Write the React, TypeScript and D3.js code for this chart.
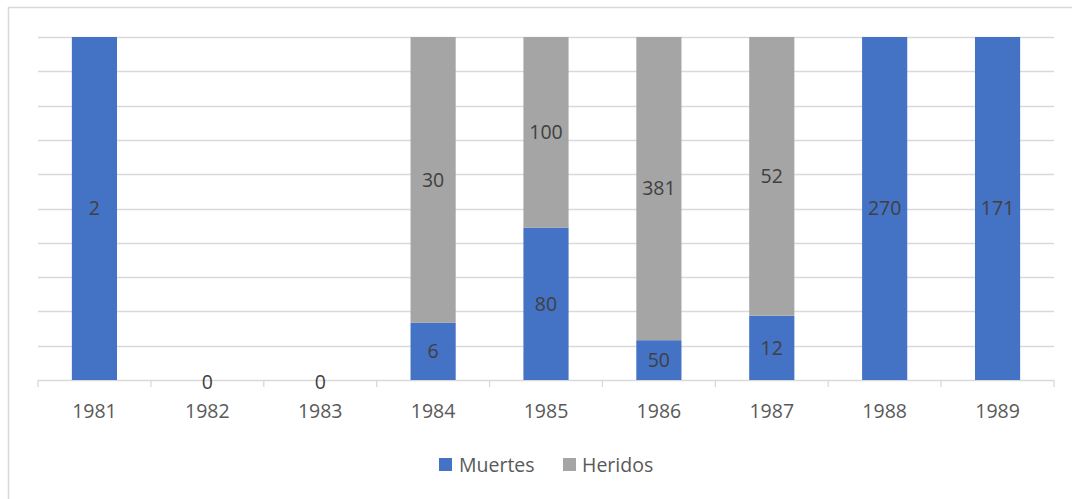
import React from 'react';
import * as d3 from 'd3';

const years = ['1981', '1982', '1983', '1984', '1985', '1986', '1987', '1988', '1989'];
const muertes = [2, 0, 0, 6, 80, 50, 12, 270, 171];
const heridos = [0, 0, 0, 30, 100, 381, 52, 0, 0];
const seriesNames = ['Muertes', 'Heridos'];
const seriesColors = ['#4472C4', '#A5A5A5'];

const W = 1072;
const H = 499;
const plot = { left: 38, right: 1054, top: 37, bottom: 380 };
const font = '"Open Sans", Lato, sans-serif';
const fs = 19.5;

export default function App() {
  const x = d3.scaleBand().domain(years).range([plot.left, plot.right]).paddingInner(0.6).paddingOuter(0.3);
  const y = d3.scaleLinear().domain([0, 1]).range([plot.bottom, plot.top]);
  const band = (plot.right - plot.left) / years.length;

  const rows = years.map((yr, i) => {
    const total = muertes[i] + heridos[i];
    return { year: yr, Muertes: total ? muertes[i] / total : 0, Heridos: total ? heridos[i] / total : 0 };
  });
  const stacked = d3.stack<any>().keys(seriesNames)(rows);
  const raw = [muertes, heridos];

  const gridTicks = d3.range(0, 1.0001, 0.1);

  return (
    <div style={{ position: 'fixed', left: 0, top: 0, width: W, height: H, background: '#fff' }}>
      <svg width={W} height={H} style={{ display: 'block' }}>
        {/* outer chart frame */}
        <rect x={8.5} y={7.5} width={W + 10} height={H + 10} fill="none" stroke="#d9d9d9" strokeWidth={1.5} />

        {gridTicks.map((t, i) => (
          <line key={i} x1={plot.left} x2={plot.right} y1={Math.round(y(t)) + 0.5} y2={Math.round(y(t)) + 0.5}
            stroke="#d9d9d9" strokeWidth={1.3} />
        ))}

        {/* category tick marks */}
        {d3.range(years.length + 1).map(i => (
          <line key={i} x1={plot.left + i * band} x2={plot.left + i * band} y1={plot.bottom} y2={plot.bottom + 7}
            stroke="#d9d9d9" strokeWidth={1.3} />
        ))}

        {stacked.map((s, si) => (
          <g key={s.key}>
            {s.map((d, i) => {
              const h = y(d[0]) - y(d[1]);
              if (h <= 0) return null;
              return (
                <rect key={i} x={x(years[i])} width={x.bandwidth()} y={y(d[1])} height={h}
                  fill={seriesColors[si]} />
              );
            })}
          </g>
        ))}

        {/* data labels */}
        {stacked.map((s, si) => (
          <g key={'l' + s.key}>
            {s.map((d, i) => {
              const v = raw[si][i];
              const total = muertes[i] + heridos[i];
              if (total === 0) {
                if (si !== 0) return null;
                return (
                  <text key={i} x={x(years[i])! + x.bandwidth() / 2} y={plot.bottom + 2} dy="0.35em" textAnchor="middle"
                    fontFamily={font} fontSize={fs} fill="#404040">0</text>
                );
              }
              if (v === 0) return null;
              const cy = (y(d[0]) + y(d[1])) / 2;
              return (
                <text key={i} x={x(years[i])! + x.bandwidth() / 2} y={cy} dy="0.35em" textAnchor="middle"
                  fontFamily={font} fontSize={fs} fill="#404040">{v}</text>
              );
            })}
          </g>
        ))}

        {/* x axis labels */}
        {years.map(yr => (
          <text key={yr} x={x(yr)! + x.bandwidth() / 2} y={418} textAnchor="middle"
            fontFamily={font} fontSize={fs} fill="#595959">{yr}</text>
        ))}

        {/* legend */}
        <g>
          <rect x={439} y={458} width={13} height={13} fill={seriesColors[0]} />
          <text x={459} y={472} fontFamily={font} fontSize={fs} fill="#595959">{seriesNames[0]}</text>
          <rect x={563} y={458} width={13} height={13} fill={seriesColors[1]} />
          <text x={582} y={472} fontFamily={font} fontSize={fs} fill="#595959">{seriesNames[1]}</text>
        </g>
      </svg>
    </div>
  );
}
